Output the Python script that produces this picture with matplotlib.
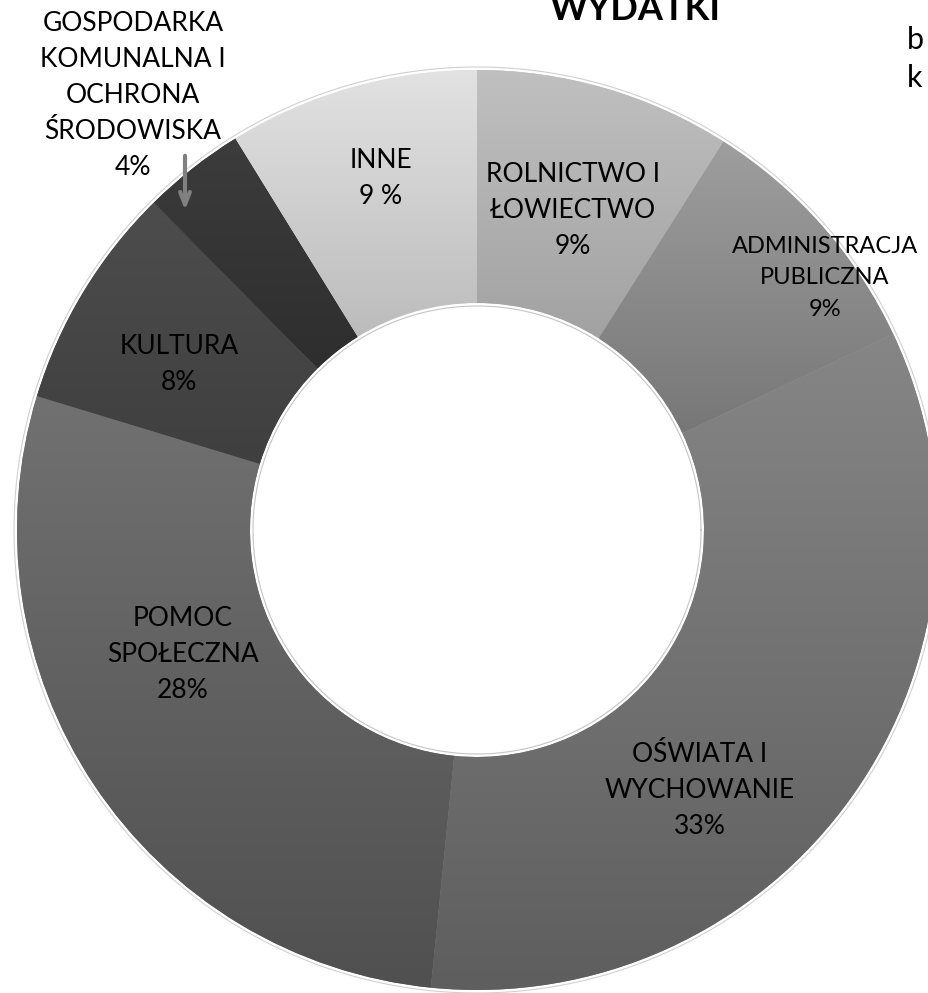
import matplotlib.pyplot as plt
import numpy as np
from matplotlib.colors import to_rgb

# data (clockwise from 12 o'clock)
categories = ['ROLNICTWO I\nŁOWIECTWO', 'ADMINISTRACJA\nPUBLICZNA', 'OŚWIATA I\nWYCHOWANIE',
              'POMOC\nSPOŁECZNA', 'KULTURA', 'GOSPODARKA\nKOMUNALNA I\nOCHRONA\nŚRODOWISKA', 'INNE']
shares = [9.0, 9.0, 33.6, 28.1, 7.9, 3.6, 8.8]
pct_labels = ['9%', '9%', '33%', '28%', '8%', '4%', '9 %']
top_colors = ['#c0c0c0', '#9e9e9e', '#868686', '#717171', '#4d4d4d', '#3c3c3c', '#e2e2e2']
bottom_colors = ['#a2a2a2', '#777777', '#5e5e5e', '#505050', '#3f3f3f', '#2e2e2e', '#bcbcbc']

W, H = 929, 993
plt.rcParams['font.family'] = ['Lato', 'DejaVu Sans']

fig = plt.figure(figsize=(W / 100, H / 100), dpi=100)
ax = fig.add_axes([0, 0, 1, 1])

cx, cy = 477, H - 530
r_out, r_in = 460, 227

wedges, _ = ax.pie(shares, startangle=90, counterclock=False, radius=r_out, center=(cx, cy),
                   colors=top_colors, frame=True,
                   wedgeprops=dict(width=r_out - r_in, linewidth=0))

# vertical gradient inside each slice
for w, c0, c1 in zip(wedges, top_colors, bottom_colors):
    bb = w.get_path().get_extents()
    t = np.linspace(0, 1, 256)[:, None]
    grad = (1 - t) * np.array(to_rgb(c1)) + t * np.array(to_rgb(c0))
    im = ax.imshow(grad[:, None, :], extent=[bb.x0, bb.x1, bb.y0, bb.y1], origin='lower',
                   aspect='auto', interpolation='bilinear', zorder=2)
    im.set_clip_path(w)

# soft edges
t = np.linspace(0, 2 * np.pi, 400)
ax.plot(cx + (r_out + 3) * np.cos(t), cy + (r_out + 3) * np.sin(t), color='#d0d0d0', lw=0.8, zorder=1)
ax.plot(cx + (r_in - 3) * np.cos(t), cy + (r_in - 3) * np.sin(t), color='#c4c4c4', lw=0.8, zorder=3)

# labels: (x, y from top, fontsize, linespacing)
label_pos = [(573, 210, 19, 1.55), (825, 278, 17, 1.6), (700, 791, 19, 1.55), (183, 655, 19, 1.55),
             (179, 364, 19, 1.55), (133, 95, 19, 1.55), (381, 178, 19, 1.55)]
for cat, pct, (x, y, fs, ls) in zip(categories, pct_labels, label_pos):
    ax.text(x, H - y, cat + '\n' + pct, ha='center', va='center', fontsize=fs,
            linespacing=ls, color='black', zorder=5)

ax.annotate('', xy=(185, H - 213), xytext=(185, H - 153), zorder=5,
            arrowprops=dict(arrowstyle='->, head_length=0.9, head_width=0.35',
                            color='#808080', lw=3))

ax.text(635, H - 20, 'WYDATKI', ha='center', va='baseline', fontsize=26, fontweight='bold')
ax.text(907, H - 49, 'b', ha='left', va='baseline', fontsize=22)
ax.text(907, H - 87, 'k', ha='left', va='baseline', fontsize=22)

ax.set_xlim(0, W)
ax.set_ylim(0, H)
ax.set_aspect('equal')
ax.axis('off')

fig.savefig('out.png', dpi=100)
